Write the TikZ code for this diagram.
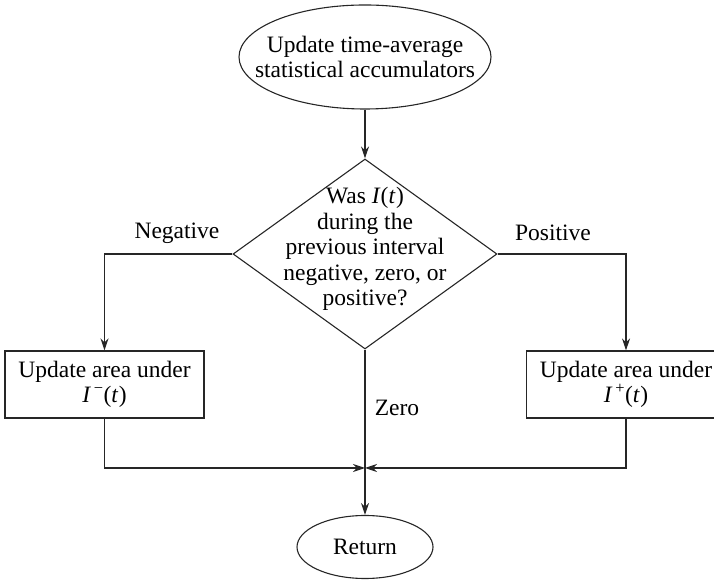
\documentclass[tikz,border=0pt]{standalone}
\usepackage{fontspec}
\setmainfont{Liberation Serif}
\usetikzlibrary{shapes.geometric,arrows.meta}
\newcommand{\sigI}{\textit{I}}
\newcommand{\sigT}{(\textit{t}\kern0.5pt)}
\begin{document}
\begin{tikzpicture}[x=1pt,y=1pt,
  every node/.style={font=\fontsize{23.5}{25.5}\selectfont},
  line/.style={draw=black!85, line width=1.1pt},
  flow/.style={line, -{Stealth[length=12pt,width=8pt]}},
  terminal/.style={ellipse, line, inner sep=0pt},
  decision/.style={diamond, line, inner sep=0pt},
  process/.style={rectangle, line, inner sep=0pt, minimum width=199pt, minimum height=67pt},
  txt/.style={align=center, inner sep=0pt}]
  \useasboundingbox (0,0) rectangle (714,580);

  % nodes
  \node[terminal, minimum width=252pt, minimum height=104pt] (start) at (365,523) {};
  \node[txt] (starttext) at (start) {Update time-average\\statistical accumulators};

  \node[decision, minimum width=264pt, minimum height=190pt] (q) at (365,326) {};
  \node[txt] (qtext) at (365,331) {Was \sigI\sigT\\during the\\previous interval\\negative, zero, or\\positive?};

  \node[process] (neg) at (104.5,195.5) {};
  \node[txt] (negtext) at (neg) {Update area under\\\sigI\textsuperscript{\,−}\sigT};

  \node[process] (pos) at (626,195.5) {};
  \node[txt] (postext) at (pos) {Update area under\\\sigI\textsuperscript{\,+}\sigT};

  \node[terminal, minimum width=136pt, minimum height=63pt] (ret) at (365,33) {};
  \node[txt] (rettext) at (ret) {Return};

  \coordinate (join) at (365,112);

  % connectors
  \draw[flow] (start.south) -- (q.north);
  \draw[flow] (q.west) -| (neg.north);
  \draw[flow] (q.east) -| (pos.north);
  \draw[flow] (q.south) -- (ret.north);
  \draw[flow] (neg.south) |- (join);
  \draw[flow] (pos.south) |- (join);

  % branch labels
  \node[txt] (lneg) at (177,347) {Negative};
  \node[txt] (lpos) at (553,347) {Positive};
  \node[txt] (lzero) at (397,172) {Zero};
\end{tikzpicture}
\end{document}
